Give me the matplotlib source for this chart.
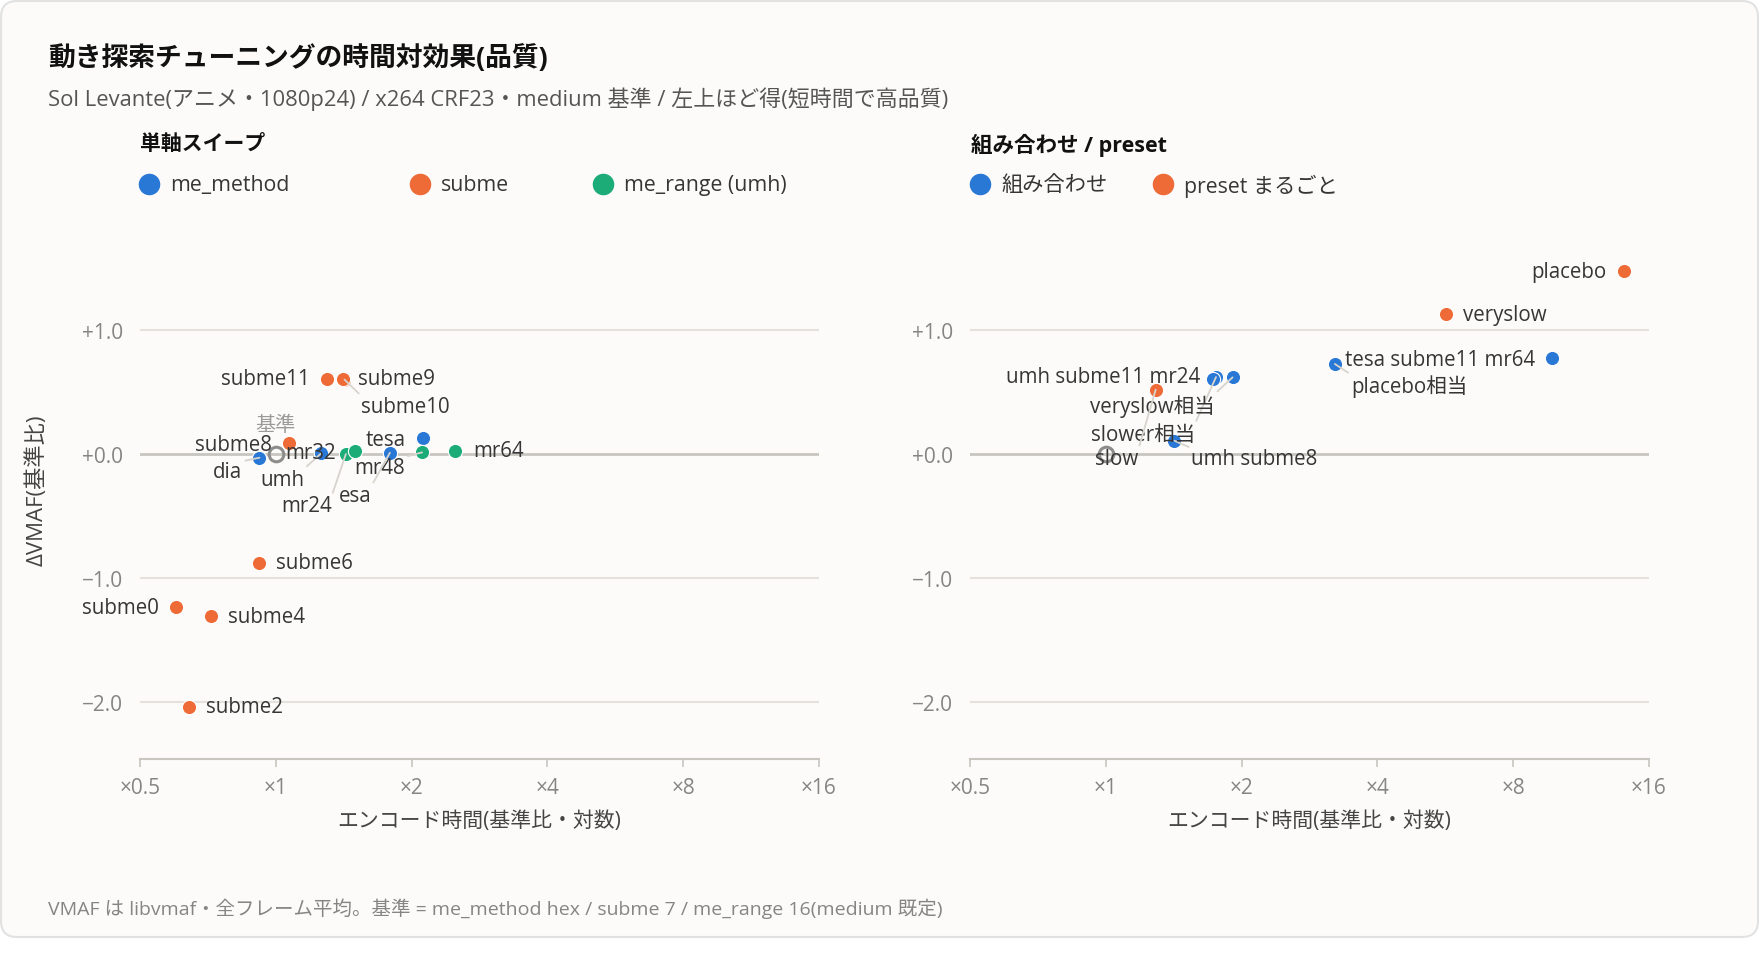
import matplotlib
matplotlib.use("Agg")
import matplotlib.pyplot as plt
from matplotlib.patches import FancyBboxPatch
from matplotlib.lines import Line2D
from matplotlib.ticker import NullLocator

plt.rcParams['font.family'] = ['Open Sans', 'Noto Sans CJK JP', 'DejaVu Sans']

# ---- データ(基準 = medium: 時間 x1, ΔVMAF 0) ----
base_time = [1.0]
base_dvmaf = [0.0]

me_method_names = ['dia', 'umh', 'esa', 'tesa']
me_method_time = [0.92, 1.26, 1.79, 2.12]
me_method_dvmaf = [-0.03, 0.005, 0.01, 0.127]

subme_names = ['subme0', 'subme2', 'subme4', 'subme6', 'subme8', 'subme10', 'subme9', 'subme11']
subme_time = [0.60, 0.642, 0.72, 0.92, 1.07, 1.42, 1.41, 1.30]
subme_dvmaf = [-1.236, -2.038, -1.309, -0.876, 0.089, 0.60, 0.605, 0.605]

me_range_names = ['mr24', 'mr32', 'mr48', 'mr64']
me_range_time = [1.43, 1.50, 2.11, 2.50]
me_range_dvmaf = [0.0, 0.027, 0.013, 0.027]

combo_names = ['umh subme8', 'slower相当', 'umh subme11 mr24', 'veryslow相当', 'placebo相当', 'tesa subme11 mr64']
combo_time = [1.42, 1.755, 1.73, 1.91, 3.22, 9.73]
combo_dvmaf = [0.107, 0.62, 0.605, 0.618, 0.726, 0.774]

preset_names = ['slow', 'veryslow', 'placebo']
preset_time = [1.29, 5.67, 14.06]
preset_dvmaf = [0.519, 1.129, 1.473]

x_ticks = [0.5, 1, 2, 4, 8, 16]
x_ticklabels = ['×0.5', '×1', '×2', '×4', '×8', '×16']
y_ticks = [1.0, 0.0, -1.0, -2.0]
y_ticklabels = ['+1.0', '+0.0', '−1.0', '−2.0']

# ラベル位置(ピクセル, 下向き正)と引き出し線
label_pos = {
    'dia': (-17, 14, True), 'umh': (-17, 26, True), 'esa': (-18, 43, True), 'tesa': (-17, 1, False),
    'subme0': (-17, 0, False), 'subme2': (17, 0, False), 'subme4': (17, 0, False),
    'subme6': (17, 0, False), 'subme8': (-17, 2, False), 'subme9': (15, 0, False),
    'subme10': (17, 27, True), 'subme11': (-17, 0, False),
    'mr24': (-14, 52, True), 'mr32': (-19, 2, False), 'mr48': (-17, 15, True), 'mr64': (18, 0, False),
    'umh subme8': (17, 18, True), 'slower相当': (-21, 57, True), 'umh subme11 mr24': (-13, -2, False),
    'veryslow相当': (-18, 28, True), 'placebo相当': (16, 22, True), 'tesa subme11 mr64': (-16, 1, False),
    'slow': (-17, 69, True), 'veryslow': (17, 0, False), 'placebo': (-17, 0, False),
}

BLUE = '#2a78d6'
ORANGE = '#ee6a36'
GREEN = '#1bac78'
TEXT = '#363636'
MUTED = '#858585'
GRID = '#e4e2db'
ZERO = '#c8c6bf'
LEADER = '#d6d4cc'

W, H = 1760, 954
fig = plt.figure(figsize=(W / 100, H / 100), dpi=100)
fig.patch.set_facecolor('white')

card = FancyBboxPatch((0.01, 0.16), 17.57, 9.36, boxstyle='round,pad=0,rounding_size=0.16',
                      transform=fig.dpi_scale_trans, facecolor='#fcfbf9', edgecolor='#e2e2e2',
                      linewidth=1.5, zorder=-5)
fig.patches.append(card)


def fx(x):
    return x / W


def fy(y):
    return 1 - y / H


fig.text(fx(48), fy(58), '動き探索チューニングの時間対効果(品質)', fontsize=19.3, fontweight='bold',
         color='#111111', va='center')
fig.text(fx(48), fy(99), 'Sol Levante(アニメ・1080p24) / x264 CRF23・medium 基準 / 左上ほど得(短時間で高品質)',
         fontsize=15.8, color='#555555', va='center')
fig.text(fx(48), fy(909), 'VMAF は libvmaf・全フレーム平均。基準 = me_method hex / subme 7 / me_range 16(medium 既定)',
         fontsize=14, color=MUTED, va='center')
fig.text(fx(37), fy(490), 'ΔVMAF(基準比)', fontsize=16, color='#444444', rotation=90,
         ha='center', va='center')


def legend_item(x, color, text):
    fig.add_artist(Line2D([fx(x)], [fy(185)], marker='o', markersize=14.5, color=color,
                          linestyle='none', transform=fig.transFigure))
    fig.text(fx(x + 21), fy(186), text, fontsize=15.3, color=TEXT, va='center')


fig.text(fx(140), fy(145), '単軸スイープ', fontsize=15, fontweight='bold', color='#111111', va='center')
fig.text(fx(971), fy(145), '組み合わせ / preset', fontsize=15.5, fontweight='bold', color='#111111', va='center')
legend_item(149, BLUE, 'me_method')
legend_item(420, ORANGE, 'subme')
legend_item(603, GREEN, 'me_range (umh)')
legend_item(980, BLUE, '組み合わせ')
legend_item(1163, ORANGE, 'preset まるごと')

ax_l = fig.add_axes([fx(140), fy(760), (819 - 140) / W, (760 - 240) / H])
ax_r = fig.add_axes([fx(970), fy(760), (819 - 140) / W, (760 - 240) / H])


def setup(ax):
    ax.set_facecolor('none')
    ax.set_xscale('log', base=2)
    ax.set_xlim(0.5, 16)
    ax.set_ylim(-2.46, 1.734)
    ax.set_xticks(x_ticks)
    ax.set_xticklabels(x_ticklabels)
    ax.xaxis.set_minor_locator(NullLocator())
    ax.set_yticks(y_ticks)
    ax.set_yticklabels(y_ticklabels)
    for s in ['top', 'right', 'left']:
        ax.spines[s].set_visible(False)
    ax.spines['bottom'].set_color(ZERO)
    ax.spines['bottom'].set_linewidth(1.5)
    ax.tick_params(axis='x', length=6, width=1.2, color=ZERO, labelsize=15, labelcolor=MUTED, pad=7)
    ax.tick_params(axis='y', length=0, labelsize=15, labelcolor=MUTED, pad=12)
    for v in y_ticks:
        if v == 0:
            ax.axhline(v, color=ZERO, lw=2, zorder=1)
        else:
            ax.axhline(v, color=GRID, lw=1.5, zorder=1)
    ax.text(0.5, -0.119, 'エンコード時間(基準比・対数)', transform=ax.transAxes, ha='center', va='center',
            fontsize=15, color='#444444')


def series(ax, names, xs, ys, color):
    ax.scatter(xs, ys, s=105, color=color, edgecolor='white', linewidth=0.8, zorder=3)
    for n, x, y in zip(names, xs, ys):
        dx, dy, lead = label_pos[n]
        ha = 'right' if dx < 0 else 'left'
        kw = {}
        if lead:
            kw['arrowprops'] = dict(arrowstyle='-', color=LEADER, lw=1.3, shrinkA=0, shrinkB=0,
                                    relpos=(1 if dx < 0 else 0, 1 if dy > 0 else 0.5))
        ax.annotate(n, xy=(x, y), xytext=(dx * 0.72, -dy * 0.72), textcoords='offset points',
                    ha=ha, va='center', fontsize=14.8, color=TEXT, zorder=4, **kw)


for ax in (ax_l, ax_r):
    setup(ax)
    ax.plot(base_time, base_dvmaf, 'o', markersize=10.5, markerfacecolor='none',
            markeredgecolor='#8c8c8c', markeredgewidth=2.2, zorder=3)

ax_l.annotate('基準', xy=(base_time[0], base_dvmaf[0]), xytext=(0, 29 * 0.72), textcoords='offset points',
              ha='center', va='center', fontsize=14.5, color='#9a9a9a', zorder=4)

series(ax_l, me_method_names, me_method_time, me_method_dvmaf, BLUE)
series(ax_l, subme_names, subme_time, subme_dvmaf, ORANGE)
series(ax_l, me_range_names, me_range_time, me_range_dvmaf, GREEN)
series(ax_r, combo_names, combo_time, combo_dvmaf, BLUE)
series(ax_r, preset_names, preset_time, preset_dvmaf, ORANGE)

fig.savefig('out.png', dpi=100, facecolor='white')
